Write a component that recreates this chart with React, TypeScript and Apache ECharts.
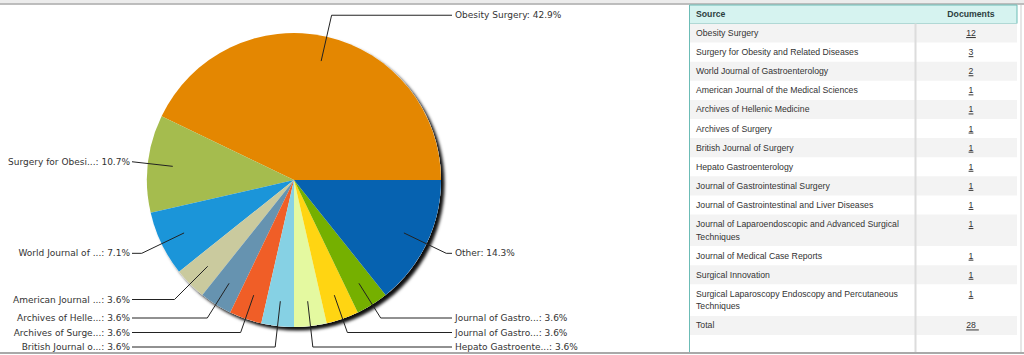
import React, { useEffect, useRef } from "react";
import * as echarts from "echarts";

// ---------- data ----------
const sources = [
  "Obesity Surgery",
  "Surgery for Obesity and Related Diseases",
  "World Journal of Gastroenterology",
  "American Journal of the Medical Sciences",
  "Archives of Hellenic Medicine",
  "Archives of Surgery",
  "British Journal of Surgery",
  "Hepato Gastroenterology",
  "Journal of Gastrointestinal Surgery",
  "Journal of Gastrointestinal and Liver Diseases",
  "Journal of Laparoendoscopic and Advanced Surgical Techniques",
  "Journal of Medical Case Reports",
  "Surgical Innovation",
  "Surgical Laparoscopy Endoscopy and Percutaneous Techniques",
];
const documents = [12, 3, 2, 1, 1, 1, 1, 1, 1, 1, 1, 1, 1, 1];
const pieTopCount = 10;
const otherName = "Other";
const totalName = "Total";
const tableHeaders = ["Source", "Documents"];
const sliceColors = [
  "#E48701",
  "#A5BC4E",
  "#1B95D9",
  "#CACA9E",
  "#6693B0",
  "#F05E27",
  "#86D1E4",
  "#E4F9A0",
  "#FFD512",
  "#75B000",
  "#0662B0",
];

// ---------- layout / style constants ----------
const CX = 294;
const CY = 180;
const R = 147;
const R_LABEL = 122;
const R_BEND = 169;
const COL_LEFT = CX - 162;
const COL_RIGHT = CX + 158;
const LABEL_MAX_Y = 347;
const LABEL_GAP = 14.5;

const T_LEFT = 689.5;
const T_RIGHT = 1017;
const T_DIV = 915.5;
const T_TOP = 5;
const T_BOTTOM = 352;
const HEAD_H = 18.5;
const ROW_H = 19.1;
const LINE_EXTRA = 12.5;
const TEXT_X = 696;
const DOC_X = 971;
const TABLE_FONT = 8.7;
const TABLE_FAMILY = "'Liberation Sans', Arial, sans-serif";
const WRAP_W = 212;

const total = documents.reduce((a, b) => a + b, 0);
const pieData = sources.slice(0, pieTopCount).map((n, i) => ({
  name: n,
  value: documents[i],
}));
pieData.push({
  name: otherName,
  value: documents.slice(pieTopCount).reduce((a, b) => a + b, 0),
});

function shortName(n: string) {
  return n.length > 17 ? n.slice(0, 17) + "..." : n;
}

// leader-line geometry for each slice (start angle 0, counter-clockwise)
function computeLeaders() {
  const sum = pieData.reduce((a, d) => a + d.value, 0);
  let acc = 0;
  const items = pieData.map((d, i) => {
    const mid = ((acc + d.value / 2) / sum) * Math.PI * 2;
    acc += d.value;
    const cos = Math.cos(mid);
    const sin = Math.sin(mid);
    const left = cos < 0;
    return {
      i,
      cos,
      sin,
      left,
      p0: [CX + R_LABEL * cos, CY - R_LABEL * sin],
      y: CY - R_BEND * sin,
    };
  });
  [true, false].forEach((side) => {
    const list = items.filter((it) => it.left === side).sort((a, b) => b.y - a.y);
    let limit = LABEL_MAX_Y;
    list.forEach((it) => {
      if (it.y > limit) it.y = limit;
      limit = it.y - LABEL_GAP;
    });
  });
  return items.map((it) => {
    const colX = it.left ? COL_LEFT : COL_RIGHT;
    let bx = CX + ((CY - it.y) / it.sin) * it.cos;
    let by = it.y;
    if (Math.abs(it.sin) < 1e-6) bx = colX;
    if ((it.left && bx < colX) || (!it.left && bx > colX)) {
      bx = colX;
      by = CY - ((colX - CX) / it.cos) * it.sin;
    }
    return { left: it.left, colX, p0: it.p0, p1: [bx, by], p2: [colX, by] };
  });
}

function measure(text: string, font: string) {
  const c = document.createElement("canvas").getContext("2d")!;
  c.font = font;
  return c.measureText(text).width;
}

function wrap(text: string, font: string, maxW: number) {
  const words = text.split(" ");
  const lines: string[] = [];
  let cur = "";
  for (const w of words) {
    const t = cur ? cur + " " + w : w;
    if (measure(t, font) > maxW && cur) {
      lines.push(cur);
      cur = w;
    } else cur = t;
  }
  if (cur) lines.push(cur);
  return lines;
}

function buildTable() {
  const font = `${TABLE_FONT}px 'Liberation Sans'`;
  const els: any[] = [];
  const color = "#333";
  els.push({
    type: "rect",
    shape: { x: T_LEFT, y: T_TOP, width: T_RIGHT - T_LEFT, height: HEAD_H },
    style: { fill: "#d6f3f0", stroke: "#6cbcb6", lineWidth: 1 },
  });
  els.push({
    type: "text",
    x: TEXT_X,
    y: T_TOP + HEAD_H / 2,
    style: {
      text: tableHeaders[0],
      fontSize: TABLE_FONT,
      fontWeight: "bold",
      fontFamily: TABLE_FAMILY,
      fill: "#2c3e3e",
      verticalAlign: "middle",
    },
  });
  els.push({
    type: "text",
    x: DOC_X,
    y: T_TOP + HEAD_H / 2,
    style: {
      text: tableHeaders[1],
      fontSize: TABLE_FONT,
      fontWeight: "bold",
      fontFamily: TABLE_FAMILY,
      fill: "#2c3e3e",
      align: "center",
      verticalAlign: "middle",
    },
  });
  const rows = sources.map((s, i) => ({ name: s, doc: String(documents[i]) }));
  rows.push({ name: totalName, doc: String(total) });
  let y = T_TOP + HEAD_H;
  rows.forEach((r, i) => {
    const lines = wrap(r.name, font, WRAP_W);
    const h = ROW_H + (lines.length - 1) * LINE_EXTRA;
    if (i % 2 === 0) {
      els.push({
        type: "rect",
        shape: { x: T_LEFT + 0.5, y, width: T_RIGHT - T_LEFT - 0.5, height: h },
        style: { fill: "#f3f3f3" },
      });
    }
    lines.forEach((ln, k) => {
      els.push({
        type: "text",
        x: TEXT_X,
        y: y + ROW_H / 2 + k * LINE_EXTRA,
        style: {
          text: ln,
          fontSize: TABLE_FONT,
          fontFamily: TABLE_FAMILY,
          fill: color,
          verticalAlign: "middle",
        },
      });
    });
    const docY = y + ROW_H / 2;
    els.push({
      type: "text",
      x: DOC_X,
      y: docY,
      style: {
        text: r.doc,
        fontSize: TABLE_FONT,
        fontFamily: TABLE_FAMILY,
        fill: color,
        align: "center",
        verticalAlign: "middle",
      },
    });
    const tw = measure(r.doc, font);
    const w = tw + (i === rows.length - 1 ? 3 : 0);
    els.push({
      type: "line",
      shape: {
        x1: DOC_X - tw / 2,
        y1: docY + 4.5,
        x2: DOC_X - tw / 2 + w,
        y2: docY + 4.5,
      },
      style: { stroke: color, lineWidth: 1 },
    });
    y += h;
  });
  els.push({
    type: "line",
    shape: { x1: T_LEFT, y1: T_TOP, x2: T_LEFT, y2: T_BOTTOM },
    style: { stroke: "#6cbcb6", lineWidth: 1 },
  });
  els.push({
    type: "line",
    shape: { x1: T_DIV, y1: T_TOP + HEAD_H, x2: T_DIV, y2: T_BOTTOM },
    style: { stroke: "#dcdcdc", lineWidth: 2 },
  });
  els.push({
    type: "line",
    shape: { x1: 1021, y1: T_TOP, x2: 1021, y2: T_BOTTOM },
    style: { stroke: "#dedede", lineWidth: 1.5 },
  });
  return els;
}

export default function App() {
  const ref = useRef<HTMLDivElement>(null);
  useEffect(() => {
    document.body.style.margin = "0";
    const chart = echarts.init(ref.current!, null, { renderer: "svg" });
    const leaders = computeLeaders();
    const frame = [
      {
        type: "rect",
        shape: { x: 0, y: 0, width: 1024, height: 3.5 },
        style: { fill: "#ececec" },
        z: -1,
      },
      {
        type: "line",
        shape: { x1: 0, y1: 4, x2: 1024, y2: 4 },
        style: { stroke: "#a9a9a9", lineWidth: 1.5 },
      },
      {
        type: "line",
        shape: { x1: 0, y1: 353, x2: 1024, y2: 353 },
        style: { stroke: "#a9a9a9", lineWidth: 2 },
      },
    ];
    chart.setOption({
      animation: false,
      backgroundColor: "#fff",
      color: sliceColors,
      graphic: { elements: [...frame, ...buildTable()] },
      series: [
        {
          type: "pie",
          center: [CX, CY],
          radius: R,
          silent: true,
          z: 1,
          data: [{ value: 1, name: "" }],
          label: { show: false },
          labelLine: { show: false },
          itemStyle: {
            color: "#fff",
            shadowColor: "rgba(0,0,0,0.95)",
            shadowBlur: 3,
            shadowOffsetX: 3.5,
            shadowOffsetY: 3.5,
          },
        },
        {
          type: "pie",
          center: [CX, CY],
          radius: R,
          startAngle: 0,
          clockwise: false,
          silent: true,
          z: 2,
          data: pieData.map((d, i) => ({
            ...d,
            itemStyle: { color: sliceColors[i] },
          })),
          label: { show: false },
          labelLine: { show: false },
        },
        {
          type: "pie",
          center: [CX, CY],
          radius: R_LABEL,
          startAngle: 0,
          clockwise: false,
          silent: true,
          avoidLabelOverlap: false,
          z: 3,
          data: pieData,
          itemStyle: { color: "rgba(0,0,0,0)" },
          label: {
            show: true,
            width: 400,
            overflow: "none",
            fontFamily: "'DejaVu Sans', Verdana, sans-serif",
            fontSize: 9,
            color: "#333",
            formatter: (p: any) =>
              `${shortName(p.name)}: ${((p.value / total) * 100).toFixed(1)}%`,
          },
          labelLine: {
            show: true,
            length: 47,
            length2: 10,
            lineStyle: { color: "#222", width: 1 },
          },
          labelLayout: (p: any) => {
            const L = leaders[p.dataIndex];
            if (!L) return {};
            return {
              x: L.left ? L.colX - 2 : L.colX + 3,
              y: L.p2[1],
              align: L.left ? "right" : "left",
              verticalAlign: "middle",
              labelLinePoints: [L.p0, L.p1, L.p2],
            };
          },
        },
      ],
    });
    return () => chart.dispose();
  }, []);
  return <div ref={ref} style={{ width: 1024, height: 355 }} />;
}
